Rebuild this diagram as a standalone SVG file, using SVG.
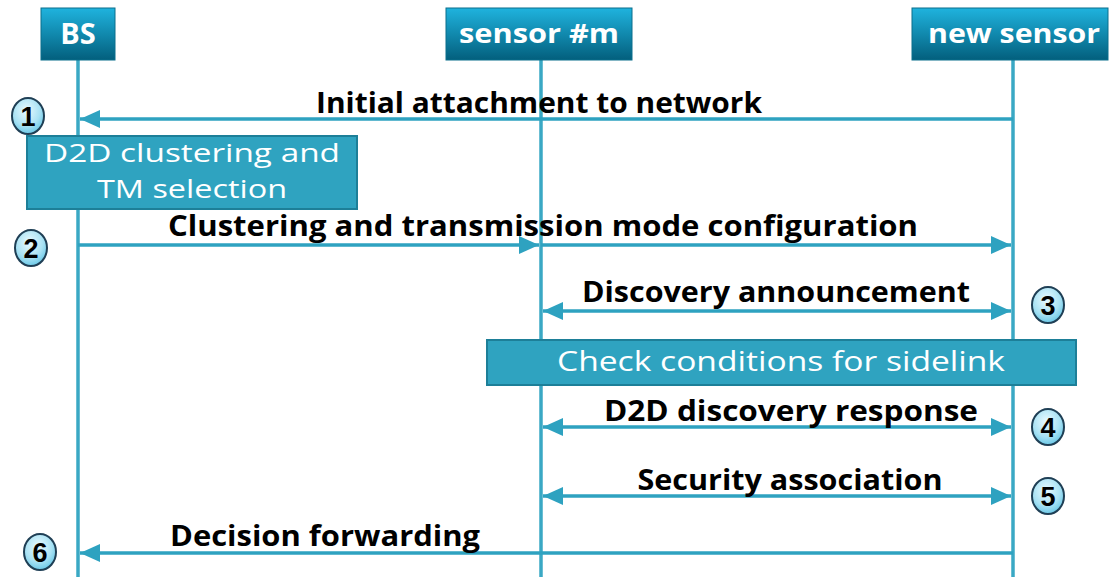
<svg xmlns="http://www.w3.org/2000/svg" width="1112" height="577" viewBox="0 0 1112 577">
<style>
.hdr{fill:url(#hg);stroke:#0a6f8c;stroke-width:1}
.ht{font-family:"Open Sans","Liberation Sans",sans-serif;font-weight:bold;font-size:27px;fill:#fff;text-anchor:middle}
.life{stroke:#3aa8c4;stroke-width:3.5;fill:none}
.msg{stroke:#2ea2c0;stroke-width:3.5;fill:none}
.lbl{font-family:"Open Sans","Liberation Sans",sans-serif;font-weight:bold;font-size:28px;fill:#000;text-anchor:middle}
.act{fill:#2fa3c0;stroke:#1d7f98;stroke-width:2}
.at{font-family:"Open Sans","Liberation Sans",sans-serif;font-size:27px;fill:#fff;text-anchor:middle}
.num{fill:url(#cg);stroke:#1f3f55;stroke-width:2}
.nt{font-family:"Liberation Sans",sans-serif;font-weight:bold;font-size:27px;fill:#000;text-anchor:middle}
</style>
<defs>
<linearGradient id="hg" x1="0" y1="0" x2="0" y2="1">
<stop offset="0" stop-color="#1fb3de"/>
<stop offset="1" stop-color="#035f7d"/>
</linearGradient>
<radialGradient id="cg" cx="0.45" cy="0.35" r="0.7">
<stop offset="0" stop-color="#eafaff"/>
<stop offset="0.6" stop-color="#a9e2f4"/>
<stop offset="1" stop-color="#5fc3e4"/>
</radialGradient>
<marker id="ah" viewBox="0 0 20 18" refX="20" refY="9" markerWidth="20" markerHeight="18" markerUnits="userSpaceOnUse" orient="auto-start-reverse">
<path d="M0,0 L20,9 L0,18 Z" fill="#2ea2c0"/>
</marker>
</defs>
<rect width="1112" height="577" fill="#fff"/>

<g id="lifelines">
<line class="life" x1="78" y1="60" x2="78" y2="577"/>
<line class="life" x1="541" y1="60" x2="541" y2="577"/>
<line class="life" x1="1013" y1="60" x2="1013" y2="577"/>
</g>

<g id="node-bs"><rect class="hdr" x="41" y="8" width="74" height="52"/><text class="ht" x="78" y="44" style="font-size:29px">BS</text></g>
<g id="node-sensor-m"><rect class="hdr" x="446" y="8" width="186" height="52"/><text class="ht" x="539" y="43" textLength="160" lengthAdjust="spacingAndGlyphs">sensor #m</text></g>
<g id="node-new-sensor"><rect class="hdr" x="912" y="8" width="196" height="52"/><text class="ht" x="1014" y="43" textLength="172" lengthAdjust="spacingAndGlyphs">new sensor</text></g>

<g id="connectors">
<line class="msg" x1="1013" y1="119" x2="80" y2="119" marker-end="url(#ah)"/>
<line class="msg" x1="78" y1="245" x2="539" y2="245" marker-end="url(#ah)"/>
<line class="msg" x1="541" y1="245" x2="1011" y2="245" marker-end="url(#ah)"/>
<line class="msg" x1="543" y1="311" x2="1011" y2="311" marker-start="url(#ah)" marker-end="url(#ah)"/>
<line class="msg" x1="543" y1="427" x2="1011" y2="427" marker-start="url(#ah)" marker-end="url(#ah)"/>
<line class="msg" x1="543" y1="496" x2="1011" y2="496" marker-start="url(#ah)" marker-end="url(#ah)"/>
<line class="msg" x1="1013" y1="553" x2="80" y2="553" marker-end="url(#ah)"/>
</g>

<g id="labels">
<text class="lbl" x="539" y="113" textLength="446" lengthAdjust="spacingAndGlyphs">Initial attachment to network</text>
<text class="lbl" x="543" y="236" textLength="750" lengthAdjust="spacingAndGlyphs">Clustering and transmission mode configuration</text>
<text class="lbl" x="776" y="302" textLength="388" lengthAdjust="spacingAndGlyphs">Discovery announcement</text>
<text class="lbl" x="791" y="421" textLength="374" lengthAdjust="spacingAndGlyphs">D2D discovery response</text>
<text class="lbl" x="790" y="490" textLength="305" lengthAdjust="spacingAndGlyphs">Security association</text>
<text class="lbl" x="325" y="546" textLength="310" lengthAdjust="spacingAndGlyphs">Decision forwarding</text>
</g>

<g id="node-d2d-clustering">
<rect class="act" x="27" y="136" width="330" height="73"/>
<text class="at" x="192" y="162" style="font-size:26px" textLength="296" lengthAdjust="spacingAndGlyphs">D2D clustering and</text>
<text class="at" x="192" y="198" style="font-size:26px" textLength="190" lengthAdjust="spacingAndGlyphs">TM selection</text>
</g>
<g id="node-check-conditions">
<rect class="act" x="487" y="340" width="589" height="45"/>
<text class="at" x="781" y="371" textLength="448" lengthAdjust="spacingAndGlyphs">Check conditions for sidelink</text>
</g>

<g id="step-1"><ellipse class="num" cx="28" cy="116" rx="16" ry="18"/><text class="nt" x="28" y="126">1</text></g>
<g id="step-2"><ellipse class="num" cx="31" cy="248" rx="16" ry="18"/><text class="nt" x="31" y="258">2</text></g>
<g id="step-3"><ellipse class="num" cx="1048" cy="305" rx="16" ry="18"/><text class="nt" x="1048" y="315">3</text></g>
<g id="step-4"><ellipse class="num" cx="1048" cy="427" rx="16" ry="18"/><text class="nt" x="1048" y="437">4</text></g>
<g id="step-5"><ellipse class="num" cx="1048" cy="496" rx="16" ry="18"/><text class="nt" x="1048" y="506">5</text></g>
<g id="step-6"><ellipse class="num" cx="40" cy="552" rx="16" ry="18"/><text class="nt" x="40" y="562">6</text></g>
</svg>
